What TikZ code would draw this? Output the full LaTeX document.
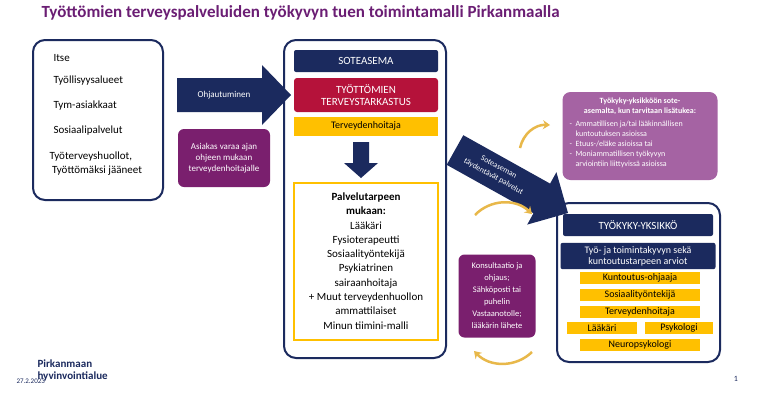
\documentclass[tikz,border=0pt]{standalone}
\usepackage{fontspec}
\setmainfont{Carlito}
\usetikzlibrary{arrows.meta}
\definecolor{navy}{HTML}{1B2A5E}
\definecolor{tpurple}{HTML}{6B1E74}
\definecolor{dpurple}{HTML}{7A1F6E}
\definecolor{lpurple}{HTML}{A563A3}
\definecolor{tred}{HTML}{B5123A}
\definecolor{gold}{HTML}{FFC000}
\definecolor{curv}{HTML}{E8B84A}
\begin{document}
\begin{tikzpicture}[x=1pt,y=-1pt,
  frame/.style={draw=navy,line width=2pt,rounded corners=12pt},
  nbox/.style={fill=navy,rounded corners=2pt,text=white,align=center},
  ybox/.style={fill=gold,text=black,align=center,font=\fontsize{10}{11}\selectfont},
  pbox/.style={fill=dpurple,rounded corners=6pt,text=white,align=center,font=\fontsize{9}{11}\selectfont},
  lt/.style={anchor=west,font=\fontsize{11}{12}\selectfont},
  arr/.style={fill=navy},
  carr/.style={draw=curv,line width=2.5pt,-{Stealth[length=7pt,width=9pt]}}]
\useasboundingbox (0,0) rectangle (760,400);
\fill[white] (0,0) rectangle (760,400);
\node[anchor=west,text=tpurple,font=\bfseries\fontsize{17}{18}\selectfont] (title) at (38,13) {Työttömien terveyspalveluiden työkyvyn tuen toimintamalli Pirkanmaalla};
% left box
\draw[frame] (33,40) rectangle (163,200);
\node[lt] (l1) at (50,58) {Itse};
\node[lt] (l2) at (50,81) {Työllisyysalueet};
\node[lt] (l3) at (50,106) {Tym-asiakkaat};
\node[lt] (l4) at (50,131) {Sosiaalipalvelut};
\node[lt,align=left,font=\fontsize{11}{14}\selectfont] (l5) at (46,164) {Työterveyshuollot,\\ \ Työttömäksi jääneet};
% big arrow
\fill[arr] (177,78) -- (262,78) -- (262,65) -- (291,95) -- (262,125) -- (262,112) -- (177,112) -- cycle;
\node[text=white,font=\fontsize{9}{10}\selectfont] (arr1t) at (224,95) {Ohjautuminen};
\node[pbox,minimum width=92pt,minimum height=58pt] (asiakas) at (224,158) {Asiakas varaa ajan\\ohjeen mukaan\\terveydenhoitajalle};
% middle
\draw[frame] (284,40) rectangle (446,358);
\node[nbox,minimum width=144pt,minimum height=22pt,font=\fontsize{11}{12}\selectfont] (sote) at (366,61) {SOTEASEMA};
\node[fill=tred,rounded corners=3pt,text=white,align=center,minimum width=144pt,minimum height=34pt,font=\fontsize{11}{12}\selectfont] (tt) at (366,95) {TYÖTTÖMIEN\\TERVEYSTARKASTUS};
\node[ybox,minimum width=144pt,minimum height=19pt] (th) at (366,126) {Terveydenhoitaja};
\fill[arr] (353,142) -- (369,142) -- (369,163) -- (378,163) -- (361,178) -- (344,163) -- (353,163) -- cycle;
\draw[gold,line width=1.5pt] (294,183) rectangle (438,340);
\node[align=center,font=\fontsize{11}{14.3}\selectfont] (pal) at (366,261) {\textbf{Palvelutarpeen}\\\textbf{mukaan:}\\Lääkäri\\Fysioterapeutti\\Sosiaalityöntekijä\\Psykiatrinen\\sairaanhoitaja\\+ Muut terveydenhuollon\\ammattilaiset\\Minun tiimini-malli};
% diagonal arrow
\fill[arr] (446.7,164.8) -- (463.3,135.2) -- (550.1,183.6) -- (556.4,172.2) -- (568,213) -- (527.2,224.6) -- (533.5,213.2) -- cycle;
\node[text=white,rotate=-29,align=center,font=\fontsize{8}{11}\selectfont] (arr3t) at (496,172) {Soteaseman\\täydentävät palvelut};
% purple info box
\node[fill=lpurple,rounded corners=8pt,minimum width=155pt,minimum height=88pt] (info) at (640,136) {};
\node[text=white,align=center,font=\bfseries\fontsize{8}{9.5}\selectfont] (infot) at (640,106) {Työkyky-yksikköön sote-\\asemalta, kun tarvitaan lisätukea:};
\node[text=white,align=left,anchor=north west,font=\fontsize{8}{10}\selectfont] (infol) at (566,117) {-\ \ Ammatillisen ja/tai lääkinnällisen\\\phantom{-}\ \ kuntoutuksen asioissa\\-\ \ Etuus-/eläke asioissa tai\\-\ \ Moniammatillisen työkyvyn\\\phantom{-}\ \ arviointiin liittyvissä asioissa};
% curved arrows
\coordinate (c1a) at (520,148); \coordinate (c1b) at (550,125);
\draw[carr] (c1a) to[bend left=40] (c1b);
\coordinate (c2a) at (475,215); \coordinate (c2b) at (532,214);
\draw[carr] (c2a) to[bend left=45] (c2b);
\coordinate (c3a) at (532,352); \coordinate (c3b) at (474,351);
\draw[carr] (c3a) to[bend left=45] (c3b);
\node[pbox,minimum width=77pt,minimum height=83pt,font=\fontsize{8.5}{12}\selectfont] (kons) at (497,296) {Konsultaatio ja\\ohjaus;\\Sähköposti tai\\puhelin\\Vastaanotolle;\\lääkärin lähete};
% right box
\draw[frame] (557,203) rectangle (720,362);
\node[nbox,minimum width=150pt,minimum height=22pt,font=\fontsize{11}{12}\selectfont] (tky) at (638,225) {TYÖKYKY-YKSIKKÖ};
\node[nbox,minimum width=155pt,minimum height=25pt,font=\fontsize{10}{11}\selectfont] (arv) at (638,256) {Työ- ja toimintakyvyn sekä\\kuntoutustarpeen arviot};
\node[ybox,minimum width=120pt,minimum height=12pt,inner sep=0pt] (k1) at (640,278) {Kuntoutus-ohjaaja};
\node[ybox,minimum width=120pt,minimum height=12pt,inner sep=0pt] (k2) at (640,295) {Sosiaalityöntekijä};
\node[ybox,minimum width=120pt,minimum height=12pt,inner sep=0pt] (k3) at (640,312) {Terveydenhoitaja};
\node[ybox,minimum width=70pt,minimum height=12pt,inner sep=0pt] (k4) at (602,328) {Lääkäri};
\node[ybox,minimum width=68pt,minimum height=12pt,inner sep=0pt] (k5) at (679,328) {Psykologi};
\node[ybox,minimum width=120pt,minimum height=12pt,inner sep=0pt] (k6) at (640,345) {Neuropsykologi};
% footer
\node[anchor=west,text=navy,align=left,font=\bfseries\fontsize{11}{12}\selectfont] (logo) at (34,370) {Pirkanmaan\\hyvinvointialue};
\node[anchor=west,text=navy,font=\fontsize{7}{8}\selectfont] (date) at (13,381) {27.2.2023};
\node[text=navy,font=\fontsize{8}{9}\selectfont] (pg) at (736,379) {1};
\end{tikzpicture}
\end{document}
